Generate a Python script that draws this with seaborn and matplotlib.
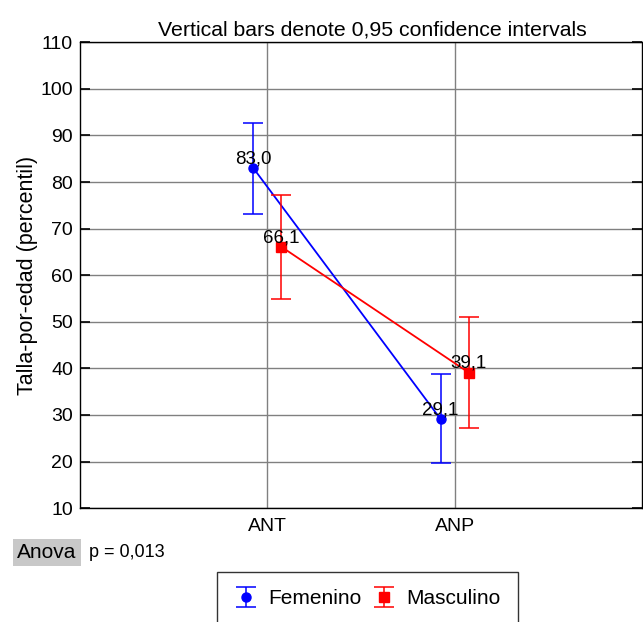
import pandas as pd
import matplotlib.pyplot as plt
import seaborn as sns

# data
categories = ['ANT', 'ANP']
sexes = ['Femenino', 'Masculino']
fem_mean = [83.0, 29.1]
fem_low = [73.2, 19.6]
fem_high = [92.7, 38.8]
mas_mean = [66.1, 39.1]
mas_low = [54.8, 27.3]
mas_high = [77.2, 51.0]
labels_fem = ['83,0', '29,1']
labels_mas = ['66,1', '39,1']

sns.set_style('white')
plt.rcParams['font.family'] = ['Liberation Sans', 'DejaVu Sans']
plt.rcParams.update({'text.color': 'black', 'axes.labelcolor': 'black',
                     'xtick.color': 'black', 'ytick.color': 'black'})

rows = []
for i, c in enumerate(categories):
    rows.append({'cat': c, 'idx': i, 'sex': 'Femenino', 'mean': fem_mean[i],
                 'low': fem_low[i], 'high': fem_high[i], 'label': labels_fem[i]})
    rows.append({'cat': c, 'idx': i, 'sex': 'Masculino', 'mean': mas_mean[i],
                 'low': mas_low[i], 'high': mas_high[i], 'label': labels_mas[i]})
df = pd.DataFrame(rows)
offsets = {'Femenino': -0.075, 'Masculino': 0.075}
df['x'] = df['idx'] + df['sex'].map(offsets)

colors = {'Femenino': '#0000ff', 'Masculino': '#ff0000'}
markers = {'Femenino': 'o', 'Masculino': 's'}

fig = plt.figure(figsize=(6.43, 6.22), dpi=100)
ax = fig.add_axes([0.1245, 0.183, 0.874, 0.749])

sns.lineplot(data=df, x='x', y='mean', hue='sex', palette=colors,
             lw=1.3, legend=False, ax=ax, sort=True)

handles = []
for s in sexes:
    d = df[df['sex'] == s]
    h = ax.errorbar(d['x'], d['mean'],
                    yerr=[d['mean'] - d['low'], d['high'] - d['mean']],
                    fmt=markers[s], color=colors[s], ms=6.5 if s == 'Femenino' else 7,
                    capsize=7, elinewidth=1.1, capthick=1.1, lw=0, label=s)
    handles.append(h)
    for _, r in d.iterrows():
        ax.annotate(r['label'], (r['x'], r['mean']), xytext=(0, 3.4),
                    textcoords='offset points', ha='center', va='baseline',
                    fontsize=13.5)

ax.set_xlim(-1, 2)
ax.set_ylim(10, 110)
ax.set_yticks(range(10, 111, 10))
ax.set_xticks([0, 1])
ax.set_xticklabels(categories)
ax.grid(True, color='#808080', lw=1)
ax.tick_params(axis='y', direction='in', length=7, width=1.2,
               labelsize=14, left=True, right=True, pad=5)
ax.tick_params(axis='x', length=0, labelsize=14, pad=7)
for sp in ax.spines.values():
    sp.set_color('black')
    sp.set_linewidth(1)
ax.set_xlabel('')
ax.set_ylabel('Talla-por-edad (percentil)', fontsize=15.5, labelpad=2)
ax.set_title('Vertical bars denote 0,95 confidence intervals', fontsize=15.3,
             pad=5, x=0.52)

fig.text(0.027, 0.112, 'Anova', fontsize=15, va='center', ha='left',
         bbox=dict(facecolor='#c8c8c8', edgecolor='none', pad=3))
fig.text(0.139, 0.112, 'p = 0,013', fontsize=13, va='center', ha='left')

leg = fig.legend(handles=handles, labels=sexes, loc='upper center',
                 bbox_to_anchor=(0.572, 0.081), ncol=2, frameon=True,
                 fancybox=False, fontsize=15, handlelength=1.1,
                 columnspacing=0.55, handletextpad=0.5, borderpad=0.85,
                 borderaxespad=0)
leg.get_frame().set_edgecolor('black')
leg.get_frame().set_linewidth(1)

fig.savefig('out.png', dpi=100)
